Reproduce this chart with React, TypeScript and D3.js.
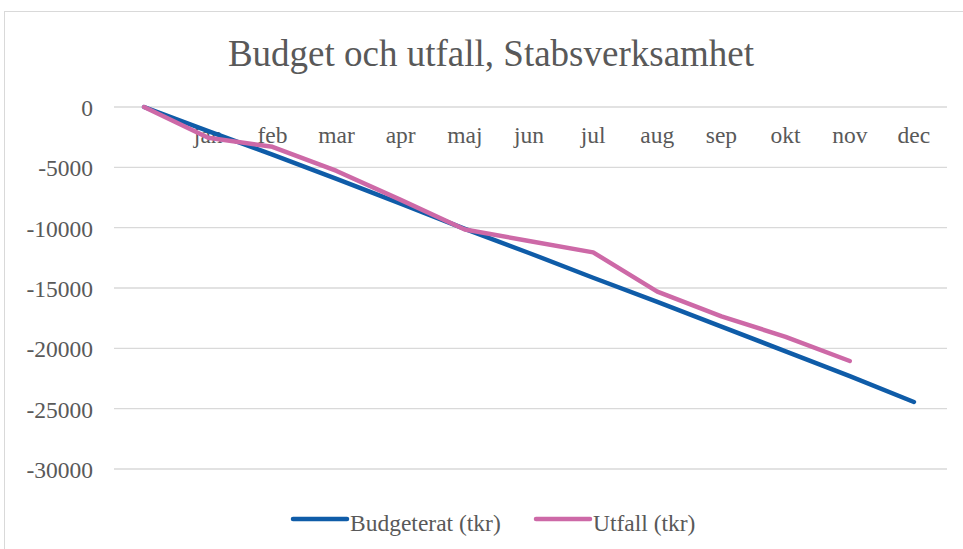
import React, { useEffect, useRef } from 'react';
import * as d3 from 'd3';

// categories (first point is the starting zero, no label)
const months = ['', 'jan', 'feb', 'mar', 'apr', 'maj', 'jun', 'jul', 'aug', 'sep', 'okt', 'nov', 'dec'];
const budget = [0, -2000, -3950, -5950, -8000, -10100, -12100, -14150, -16150, -18200, -20250, -22300, -24450];
const utfall = [0, -2550, -3300, -5300, -7700, -10150, -11100, -12050, -15300, -17350, -19050, -21050];
const yTicks = [0, -5000, -10000, -15000, -20000, -25000, -30000];

const W = 963;
const H = 549;
const font = '"Liberation Serif", "Times New Roman", serif';

export default function App() {
  const ref = useRef<SVGSVGElement>(null);

  useEffect(() => {
    const svg = d3.select(ref.current);
    svg.selectAll('*').remove();

    // chart frame
    svg.append('rect')
      .attr('x', 4.5).attr('y', 11.5)
      .attr('width', W + 10).attr('height', H + 10)
      .attr('fill', 'white').attr('stroke', '#d9d9d9');

    svg.append('text')
      .attr('x', 491).attr('y', 66)
      .attr('text-anchor', 'middle')
      .style('font-family', font).style('font-size', '37px')
      .attr('fill', '#595959')
      .text('Budget och utfall, Stabsverksamhet');

    const x = d3.scalePoint<string>().domain(months).range([112, 946]).padding(0.5);
    const y = d3.scaleLinear().domain([-30000, 0]).range([469, 107]);

    // gridlines
    svg.append('g').selectAll('line')
      .data(yTicks).enter().append('line')
      .attr('x1', 114).attr('x2', 947)
      .attr('y1', d => y(d)).attr('y2', d => y(d))
      .attr('stroke', '#d9d9d9').attr('stroke-width', 1.3);

    // y tick labels
    svg.append('g').selectAll('text')
      .data(yTicks).enter().append('text')
      .attr('x', 93).attr('y', d => y(d) + 9)
      .attr('text-anchor', 'end')
      .style('font-family', font).style('font-size', '23.5px')
      .attr('fill', '#595959')
      .text(d => String(d));

    // category labels (axis crosses at 0)
    svg.append('g').selectAll('text')
      .data(months.slice(1)).enter().append('text')
      .attr('x', d => x(d)!).attr('y', y(0) + 36)
      .attr('text-anchor', 'middle')
      .style('font-family', font).style('font-size', '23.5px')
      .attr('fill', '#595959')
      .text(d => d);

    const line = d3.line<number>()
      .x((_, i) => x(months[i])!)
      .y(d => y(d));

    svg.append('path').datum(budget)
      .attr('d', line)
      .attr('fill', 'none').attr('stroke', '#0f5ca8').attr('stroke-width', 4.5)
      .attr('stroke-linecap', 'round').attr('stroke-linejoin', 'round');

    svg.append('path').datum(utfall)
      .attr('d', line)
      .attr('fill', 'none').attr('stroke', '#cd69a7').attr('stroke-width', 4.5)
      .attr('stroke-linecap', 'round').attr('stroke-linejoin', 'round');

    // legend
    const legend = [
      { name: 'Budgeterat (tkr)', color: '#0f5ca8', x0: 293 },
      { name: 'Utfall (tkr)', color: '#cd69a7', x0: 536 },
    ];
    const lg = svg.append('g').selectAll('g').data(legend).enter().append('g');
    lg.append('line')
      .attr('x1', d => d.x0).attr('x2', d => d.x0 + 54)
      .attr('y1', 519).attr('y2', 519)
      .attr('stroke', d => d.color).attr('stroke-width', 4.5).attr('stroke-linecap', 'round');
    lg.append('text')
      .attr('x', d => d.x0 + 57).attr('y', 531)
      .style('font-family', font).style('font-size', '23.5px')
      .attr('fill', '#595959')
      .text(d => d.name);
  }, []);

  return (
    <svg ref={ref} width={W} height={H}
      style={{ position: 'absolute', left: 0, top: 0, display: 'block' }} />
  );
}
